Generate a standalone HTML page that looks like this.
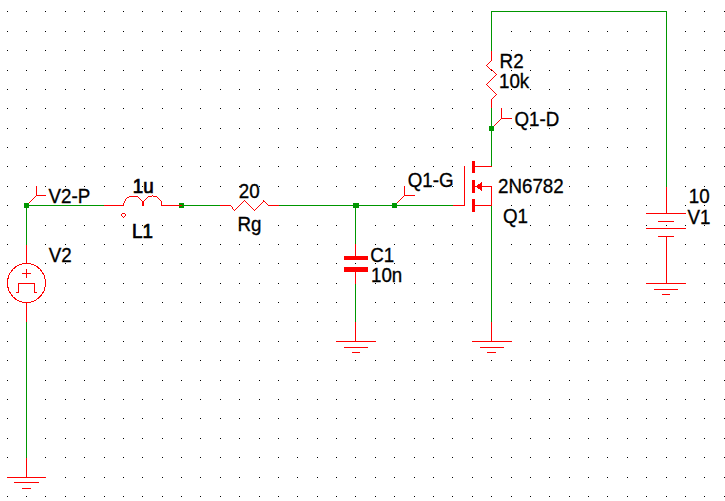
<!DOCTYPE html>
<html><head><meta charset="utf-8"><title>Schematic</title>
<style>
html,body{margin:0;padding:0;background:#fff;overflow:hidden}
svg{display:block}
text{font-family:"Liberation Sans",Arial,sans-serif;font-size:19px;fill:#000;stroke:#000;stroke-width:0.3px}
text.b{stroke:#000;stroke-width:0.7px}
</style></head><body>
<svg width="725" height="501" viewBox="0 0 725 501">
<rect width="725" height="501" fill="#fff"/>
<g shape-rendering="crispEdges">
<path d="M7 11.5h1M26 11.5h1M45 11.5h1M65 11.5h1M84 11.5h1M104 11.5h1M123 11.5h1M142 11.5h1M162 11.5h1M181 11.5h1M200 11.5h1M220 11.5h1M239 11.5h1M259 11.5h1M278 11.5h1M297 11.5h1M317 11.5h1M336 11.5h1M355 11.5h1M375 11.5h1M394 11.5h1M414 11.5h1M433 11.5h1M452 11.5h1M472 11.5h1M491 11.5h1M511 11.5h1M530 11.5h1M549 11.5h1M569 11.5h1M588 11.5h1M607 11.5h1M627 11.5h1M646 11.5h1M666 11.5h1M685 11.5h1M704 11.5h1M724 11.5h1M7 31.5h1M26 31.5h1M45 31.5h1M65 31.5h1M84 31.5h1M104 31.5h1M123 31.5h1M142 31.5h1M162 31.5h1M181 31.5h1M200 31.5h1M220 31.5h1M239 31.5h1M259 31.5h1M278 31.5h1M297 31.5h1M317 31.5h1M336 31.5h1M355 31.5h1M375 31.5h1M394 31.5h1M414 31.5h1M433 31.5h1M452 31.5h1M472 31.5h1M491 31.5h1M511 31.5h1M530 31.5h1M549 31.5h1M569 31.5h1M588 31.5h1M607 31.5h1M627 31.5h1M646 31.5h1M666 31.5h1M685 31.5h1M704 31.5h1M724 31.5h1M7 50.5h1M26 50.5h1M45 50.5h1M65 50.5h1M84 50.5h1M104 50.5h1M123 50.5h1M142 50.5h1M162 50.5h1M181 50.5h1M200 50.5h1M220 50.5h1M239 50.5h1M259 50.5h1M278 50.5h1M297 50.5h1M317 50.5h1M336 50.5h1M355 50.5h1M375 50.5h1M394 50.5h1M414 50.5h1M433 50.5h1M452 50.5h1M472 50.5h1M491 50.5h1M511 50.5h1M530 50.5h1M549 50.5h1M569 50.5h1M588 50.5h1M607 50.5h1M627 50.5h1M646 50.5h1M666 50.5h1M685 50.5h1M704 50.5h1M724 50.5h1M7 70.5h1M26 70.5h1M45 70.5h1M65 70.5h1M84 70.5h1M104 70.5h1M123 70.5h1M142 70.5h1M162 70.5h1M181 70.5h1M200 70.5h1M220 70.5h1M239 70.5h1M259 70.5h1M278 70.5h1M297 70.5h1M317 70.5h1M336 70.5h1M355 70.5h1M375 70.5h1M394 70.5h1M414 70.5h1M433 70.5h1M452 70.5h1M472 70.5h1M491 70.5h1M511 70.5h1M530 70.5h1M549 70.5h1M569 70.5h1M588 70.5h1M607 70.5h1M627 70.5h1M646 70.5h1M666 70.5h1M685 70.5h1M704 70.5h1M724 70.5h1M7 89.5h1M26 89.5h1M45 89.5h1M65 89.5h1M84 89.5h1M104 89.5h1M123 89.5h1M142 89.5h1M162 89.5h1M181 89.5h1M200 89.5h1M220 89.5h1M239 89.5h1M259 89.5h1M278 89.5h1M297 89.5h1M317 89.5h1M336 89.5h1M355 89.5h1M375 89.5h1M394 89.5h1M414 89.5h1M433 89.5h1M452 89.5h1M472 89.5h1M491 89.5h1M511 89.5h1M530 89.5h1M549 89.5h1M569 89.5h1M588 89.5h1M607 89.5h1M627 89.5h1M646 89.5h1M666 89.5h1M685 89.5h1M704 89.5h1M724 89.5h1M7 108.5h1M26 108.5h1M45 108.5h1M65 108.5h1M84 108.5h1M104 108.5h1M123 108.5h1M142 108.5h1M162 108.5h1M181 108.5h1M200 108.5h1M220 108.5h1M239 108.5h1M259 108.5h1M278 108.5h1M297 108.5h1M317 108.5h1M336 108.5h1M355 108.5h1M375 108.5h1M394 108.5h1M414 108.5h1M433 108.5h1M452 108.5h1M472 108.5h1M491 108.5h1M511 108.5h1M530 108.5h1M549 108.5h1M569 108.5h1M588 108.5h1M607 108.5h1M627 108.5h1M646 108.5h1M666 108.5h1M685 108.5h1M704 108.5h1M724 108.5h1M7 128.5h1M26 128.5h1M45 128.5h1M65 128.5h1M84 128.5h1M104 128.5h1M123 128.5h1M142 128.5h1M162 128.5h1M181 128.5h1M200 128.5h1M220 128.5h1M239 128.5h1M259 128.5h1M278 128.5h1M297 128.5h1M317 128.5h1M336 128.5h1M355 128.5h1M375 128.5h1M394 128.5h1M414 128.5h1M433 128.5h1M452 128.5h1M472 128.5h1M491 128.5h1M511 128.5h1M530 128.5h1M549 128.5h1M569 128.5h1M588 128.5h1M607 128.5h1M627 128.5h1M646 128.5h1M666 128.5h1M685 128.5h1M704 128.5h1M724 128.5h1M7 147.5h1M26 147.5h1M45 147.5h1M65 147.5h1M84 147.5h1M104 147.5h1M123 147.5h1M142 147.5h1M162 147.5h1M181 147.5h1M200 147.5h1M220 147.5h1M239 147.5h1M259 147.5h1M278 147.5h1M297 147.5h1M317 147.5h1M336 147.5h1M355 147.5h1M375 147.5h1M394 147.5h1M414 147.5h1M433 147.5h1M452 147.5h1M472 147.5h1M491 147.5h1M511 147.5h1M530 147.5h1M549 147.5h1M569 147.5h1M588 147.5h1M607 147.5h1M627 147.5h1M646 147.5h1M666 147.5h1M685 147.5h1M704 147.5h1M724 147.5h1M7 166.5h1M26 166.5h1M45 166.5h1M65 166.5h1M84 166.5h1M104 166.5h1M123 166.5h1M142 166.5h1M162 166.5h1M181 166.5h1M200 166.5h1M220 166.5h1M239 166.5h1M259 166.5h1M278 166.5h1M297 166.5h1M317 166.5h1M336 166.5h1M355 166.5h1M375 166.5h1M394 166.5h1M414 166.5h1M433 166.5h1M452 166.5h1M472 166.5h1M491 166.5h1M511 166.5h1M530 166.5h1M549 166.5h1M569 166.5h1M588 166.5h1M607 166.5h1M627 166.5h1M646 166.5h1M666 166.5h1M685 166.5h1M704 166.5h1M724 166.5h1M7 186.5h1M26 186.5h1M45 186.5h1M65 186.5h1M84 186.5h1M104 186.5h1M123 186.5h1M142 186.5h1M162 186.5h1M181 186.5h1M200 186.5h1M220 186.5h1M239 186.5h1M259 186.5h1M278 186.5h1M297 186.5h1M317 186.5h1M336 186.5h1M355 186.5h1M375 186.5h1M394 186.5h1M414 186.5h1M433 186.5h1M452 186.5h1M472 186.5h1M491 186.5h1M511 186.5h1M530 186.5h1M549 186.5h1M569 186.5h1M588 186.5h1M607 186.5h1M627 186.5h1M646 186.5h1M666 186.5h1M685 186.5h1M704 186.5h1M724 186.5h1M7 205.5h1M26 205.5h1M45 205.5h1M65 205.5h1M84 205.5h1M104 205.5h1M123 205.5h1M142 205.5h1M162 205.5h1M181 205.5h1M200 205.5h1M220 205.5h1M239 205.5h1M259 205.5h1M278 205.5h1M297 205.5h1M317 205.5h1M336 205.5h1M355 205.5h1M375 205.5h1M394 205.5h1M414 205.5h1M433 205.5h1M452 205.5h1M472 205.5h1M491 205.5h1M511 205.5h1M530 205.5h1M549 205.5h1M569 205.5h1M588 205.5h1M607 205.5h1M627 205.5h1M646 205.5h1M666 205.5h1M685 205.5h1M704 205.5h1M724 205.5h1M7 225.5h1M26 225.5h1M45 225.5h1M65 225.5h1M84 225.5h1M104 225.5h1M123 225.5h1M142 225.5h1M162 225.5h1M181 225.5h1M200 225.5h1M220 225.5h1M239 225.5h1M259 225.5h1M278 225.5h1M297 225.5h1M317 225.5h1M336 225.5h1M355 225.5h1M375 225.5h1M394 225.5h1M414 225.5h1M433 225.5h1M452 225.5h1M472 225.5h1M491 225.5h1M511 225.5h1M530 225.5h1M549 225.5h1M569 225.5h1M588 225.5h1M607 225.5h1M627 225.5h1M646 225.5h1M666 225.5h1M685 225.5h1M704 225.5h1M724 225.5h1M7 244.5h1M26 244.5h1M45 244.5h1M65 244.5h1M84 244.5h1M104 244.5h1M123 244.5h1M142 244.5h1M162 244.5h1M181 244.5h1M200 244.5h1M220 244.5h1M239 244.5h1M259 244.5h1M278 244.5h1M297 244.5h1M317 244.5h1M336 244.5h1M355 244.5h1M375 244.5h1M394 244.5h1M414 244.5h1M433 244.5h1M452 244.5h1M472 244.5h1M491 244.5h1M511 244.5h1M530 244.5h1M549 244.5h1M569 244.5h1M588 244.5h1M607 244.5h1M627 244.5h1M646 244.5h1M666 244.5h1M685 244.5h1M704 244.5h1M724 244.5h1M7 263.5h1M26 263.5h1M45 263.5h1M65 263.5h1M84 263.5h1M104 263.5h1M123 263.5h1M142 263.5h1M162 263.5h1M181 263.5h1M200 263.5h1M220 263.5h1M239 263.5h1M259 263.5h1M278 263.5h1M297 263.5h1M317 263.5h1M336 263.5h1M355 263.5h1M375 263.5h1M394 263.5h1M414 263.5h1M433 263.5h1M452 263.5h1M472 263.5h1M491 263.5h1M511 263.5h1M530 263.5h1M549 263.5h1M569 263.5h1M588 263.5h1M607 263.5h1M627 263.5h1M646 263.5h1M666 263.5h1M685 263.5h1M704 263.5h1M724 263.5h1M7 283.5h1M26 283.5h1M45 283.5h1M65 283.5h1M84 283.5h1M104 283.5h1M123 283.5h1M142 283.5h1M162 283.5h1M181 283.5h1M200 283.5h1M220 283.5h1M239 283.5h1M259 283.5h1M278 283.5h1M297 283.5h1M317 283.5h1M336 283.5h1M355 283.5h1M375 283.5h1M394 283.5h1M414 283.5h1M433 283.5h1M452 283.5h1M472 283.5h1M491 283.5h1M511 283.5h1M530 283.5h1M549 283.5h1M569 283.5h1M588 283.5h1M607 283.5h1M627 283.5h1M646 283.5h1M666 283.5h1M685 283.5h1M704 283.5h1M724 283.5h1M7 302.5h1M26 302.5h1M45 302.5h1M65 302.5h1M84 302.5h1M104 302.5h1M123 302.5h1M142 302.5h1M162 302.5h1M181 302.5h1M200 302.5h1M220 302.5h1M239 302.5h1M259 302.5h1M278 302.5h1M297 302.5h1M317 302.5h1M336 302.5h1M355 302.5h1M375 302.5h1M394 302.5h1M414 302.5h1M433 302.5h1M452 302.5h1M472 302.5h1M491 302.5h1M511 302.5h1M530 302.5h1M549 302.5h1M569 302.5h1M588 302.5h1M607 302.5h1M627 302.5h1M646 302.5h1M666 302.5h1M685 302.5h1M704 302.5h1M724 302.5h1M7 321.5h1M26 321.5h1M45 321.5h1M65 321.5h1M84 321.5h1M104 321.5h1M123 321.5h1M142 321.5h1M162 321.5h1M181 321.5h1M200 321.5h1M220 321.5h1M239 321.5h1M259 321.5h1M278 321.5h1M297 321.5h1M317 321.5h1M336 321.5h1M355 321.5h1M375 321.5h1M394 321.5h1M414 321.5h1M433 321.5h1M452 321.5h1M472 321.5h1M491 321.5h1M511 321.5h1M530 321.5h1M549 321.5h1M569 321.5h1M588 321.5h1M607 321.5h1M627 321.5h1M646 321.5h1M666 321.5h1M685 321.5h1M704 321.5h1M724 321.5h1M7 341.5h1M26 341.5h1M45 341.5h1M65 341.5h1M84 341.5h1M104 341.5h1M123 341.5h1M142 341.5h1M162 341.5h1M181 341.5h1M200 341.5h1M220 341.5h1M239 341.5h1M259 341.5h1M278 341.5h1M297 341.5h1M317 341.5h1M336 341.5h1M355 341.5h1M375 341.5h1M394 341.5h1M414 341.5h1M433 341.5h1M452 341.5h1M472 341.5h1M491 341.5h1M511 341.5h1M530 341.5h1M549 341.5h1M569 341.5h1M588 341.5h1M607 341.5h1M627 341.5h1M646 341.5h1M666 341.5h1M685 341.5h1M704 341.5h1M724 341.5h1M7 360.5h1M26 360.5h1M45 360.5h1M65 360.5h1M84 360.5h1M104 360.5h1M123 360.5h1M142 360.5h1M162 360.5h1M181 360.5h1M200 360.5h1M220 360.5h1M239 360.5h1M259 360.5h1M278 360.5h1M297 360.5h1M317 360.5h1M336 360.5h1M355 360.5h1M375 360.5h1M394 360.5h1M414 360.5h1M433 360.5h1M452 360.5h1M472 360.5h1M491 360.5h1M511 360.5h1M530 360.5h1M549 360.5h1M569 360.5h1M588 360.5h1M607 360.5h1M627 360.5h1M646 360.5h1M666 360.5h1M685 360.5h1M704 360.5h1M724 360.5h1M7 380.5h1M26 380.5h1M45 380.5h1M65 380.5h1M84 380.5h1M104 380.5h1M123 380.5h1M142 380.5h1M162 380.5h1M181 380.5h1M200 380.5h1M220 380.5h1M239 380.5h1M259 380.5h1M278 380.5h1M297 380.5h1M317 380.5h1M336 380.5h1M355 380.5h1M375 380.5h1M394 380.5h1M414 380.5h1M433 380.5h1M452 380.5h1M472 380.5h1M491 380.5h1M511 380.5h1M530 380.5h1M549 380.5h1M569 380.5h1M588 380.5h1M607 380.5h1M627 380.5h1M646 380.5h1M666 380.5h1M685 380.5h1M704 380.5h1M724 380.5h1M7 399.5h1M26 399.5h1M45 399.5h1M65 399.5h1M84 399.5h1M104 399.5h1M123 399.5h1M142 399.5h1M162 399.5h1M181 399.5h1M200 399.5h1M220 399.5h1M239 399.5h1M259 399.5h1M278 399.5h1M297 399.5h1M317 399.5h1M336 399.5h1M355 399.5h1M375 399.5h1M394 399.5h1M414 399.5h1M433 399.5h1M452 399.5h1M472 399.5h1M491 399.5h1M511 399.5h1M530 399.5h1M549 399.5h1M569 399.5h1M588 399.5h1M607 399.5h1M627 399.5h1M646 399.5h1M666 399.5h1M685 399.5h1M704 399.5h1M724 399.5h1M7 418.5h1M26 418.5h1M45 418.5h1M65 418.5h1M84 418.5h1M104 418.5h1M123 418.5h1M142 418.5h1M162 418.5h1M181 418.5h1M200 418.5h1M220 418.5h1M239 418.5h1M259 418.5h1M278 418.5h1M297 418.5h1M317 418.5h1M336 418.5h1M355 418.5h1M375 418.5h1M394 418.5h1M414 418.5h1M433 418.5h1M452 418.5h1M472 418.5h1M491 418.5h1M511 418.5h1M530 418.5h1M549 418.5h1M569 418.5h1M588 418.5h1M607 418.5h1M627 418.5h1M646 418.5h1M666 418.5h1M685 418.5h1M704 418.5h1M724 418.5h1M7 438.5h1M26 438.5h1M45 438.5h1M65 438.5h1M84 438.5h1M104 438.5h1M123 438.5h1M142 438.5h1M162 438.5h1M181 438.5h1M200 438.5h1M220 438.5h1M239 438.5h1M259 438.5h1M278 438.5h1M297 438.5h1M317 438.5h1M336 438.5h1M355 438.5h1M375 438.5h1M394 438.5h1M414 438.5h1M433 438.5h1M452 438.5h1M472 438.5h1M491 438.5h1M511 438.5h1M530 438.5h1M549 438.5h1M569 438.5h1M588 438.5h1M607 438.5h1M627 438.5h1M646 438.5h1M666 438.5h1M685 438.5h1M704 438.5h1M724 438.5h1M7 457.5h1M26 457.5h1M45 457.5h1M65 457.5h1M84 457.5h1M104 457.5h1M123 457.5h1M142 457.5h1M162 457.5h1M181 457.5h1M200 457.5h1M220 457.5h1M239 457.5h1M259 457.5h1M278 457.5h1M297 457.5h1M317 457.5h1M336 457.5h1M355 457.5h1M375 457.5h1M394 457.5h1M414 457.5h1M433 457.5h1M452 457.5h1M472 457.5h1M491 457.5h1M511 457.5h1M530 457.5h1M549 457.5h1M569 457.5h1M588 457.5h1M607 457.5h1M627 457.5h1M646 457.5h1M666 457.5h1M685 457.5h1M704 457.5h1M724 457.5h1M7 477.5h1M26 477.5h1M45 477.5h1M65 477.5h1M84 477.5h1M104 477.5h1M123 477.5h1M142 477.5h1M162 477.5h1M181 477.5h1M200 477.5h1M220 477.5h1M239 477.5h1M259 477.5h1M278 477.5h1M297 477.5h1M317 477.5h1M336 477.5h1M355 477.5h1M375 477.5h1M394 477.5h1M414 477.5h1M433 477.5h1M452 477.5h1M472 477.5h1M491 477.5h1M511 477.5h1M530 477.5h1M549 477.5h1M569 477.5h1M588 477.5h1M607 477.5h1M627 477.5h1M646 477.5h1M666 477.5h1M685 477.5h1M704 477.5h1M724 477.5h1M7 496.5h1M26 496.5h1M45 496.5h1M65 496.5h1M84 496.5h1M104 496.5h1M123 496.5h1M142 496.5h1M162 496.5h1M181 496.5h1M200 496.5h1M220 496.5h1M239 496.5h1M259 496.5h1M278 496.5h1M297 496.5h1M317 496.5h1M336 496.5h1M355 496.5h1M375 496.5h1M394 496.5h1M414 496.5h1M433 496.5h1M452 496.5h1M472 496.5h1M491 496.5h1M511 496.5h1M530 496.5h1M549 496.5h1M569 496.5h1M588 496.5h1M607 496.5h1M627 496.5h1M646 496.5h1M666 496.5h1M685 496.5h1M704 496.5h1M724 496.5h1" stroke="#000" stroke-width="1" fill="none"/>
<rect x="26" y="205" width="79" height="1" fill="#009600"/><rect x="26" y="205" width="1" height="40" fill="#009600"/><rect x="26" y="321" width="1" height="137" fill="#009600"/><rect x="181" y="205" width="40" height="1" fill="#009600"/><rect x="278" y="205" width="175" height="1" fill="#009600"/><rect x="355" y="205" width="1" height="40" fill="#009600"/><rect x="355" y="283" width="1" height="39" fill="#009600"/><rect x="491" y="205" width="1" height="117" fill="#009600"/><rect x="491" y="108" width="1" height="59" fill="#009600"/><rect x="491" y="11" width="1" height="40" fill="#009600"/><rect x="491" y="11" width="176" height="1" fill="#009600"/><rect x="666" y="11" width="1" height="176" fill="#009600"/>
<rect x="24" y="203" width="5" height="5" fill="#009600"/><rect x="179" y="203" width="5" height="5" fill="#009600"/><rect x="353" y="203" width="6" height="5" fill="#009600"/><rect x="392" y="203" width="5" height="5" fill="#009600"/><rect x="489" y="126" width="5" height="5" fill="#009600"/>
<rect x="26" y="245" width="1" height="19" fill="#ff0000"/><rect x="26" y="302" width="1" height="20" fill="#ff0000"/><ellipse cx="26.5" cy="283" rx="19" ry="19.5" stroke="#ff0000" fill="none"/><rect x="22" y="273" width="9" height="1" fill="#ff0000"/><rect x="26" y="269" width="1" height="9" fill="#ff0000"/><path d="M18 283.5h17M18 284.5h1M34 284.5h1M18 285.5h1M34 285.5h1M18 286.5h1M34 286.5h1M18 287.5h1M34 287.5h1M18 288.5h1M34 288.5h1M18 289.5h1M34 289.5h1M18 290.5h1M34 290.5h1M18 291.5h1M34 291.5h1M16 292.5h3M34 292.5h3" stroke="#ff0000" stroke-width="1" fill="none"/><rect x="104" y="205" width="20" height="1" fill="#ff0000"/><rect x="161" y="205" width="21" height="1" fill="#ff0000"/><path d="M129 196.5h9M127 197.5h2M138 197.5h1M126 198.5h1M139 198.5h1M125 199.5h1M140 199.5h1M125 200.5h1M141 200.5h1M124 201.5h1M142 201.5h1M124 202.5h1M142 202.5h1M123 203.5h1M142 203.5h1M123 204.5h1M142 204.5h1M123 205.5h1M142 205.5h1" stroke="#ff0000" stroke-width="1" fill="none"/><path d="M122 213.5h3M121 214.5h1M125 214.5h1M121 215.5h1M125 215.5h1M122 216.5h1M124 216.5h1M123 217.5h1" stroke="#ff0000" stroke-width="1" fill="none"/><path d="M152 195.5h1M148 196.5h4M153 196.5h4M147 197.5h1M157 197.5h1M146 198.5h1M158 198.5h1M145 199.5h1M159 199.5h1M144 200.5h1M160 200.5h1M143 201.5h1M161 201.5h1M143 202.5h1M161 202.5h1M143 203.5h1M161 203.5h1M143 204.5h1M161 204.5h1M143 205.5h1M161 205.5h1" stroke="#ff0000" stroke-width="1" fill="none"/><path d="M244 200.5h1M263 200.5h1M243 201.5h1M245 201.5h1M263 201.5h2M242 202.5h1M246 202.5h1M262 202.5h1M265 202.5h1M241 203.5h1M247 203.5h1M261 203.5h1M266 203.5h1M240 204.5h1M248 204.5h1M260 204.5h1M267 204.5h1M220 205.5h11M239 205.5h1M249 205.5h1M259 205.5h1M268 205.5h11M231 206.5h1M238 206.5h1M250 206.5h1M258 206.5h1M232 207.5h1M237 207.5h1M251 207.5h1M257 207.5h1M232 208.5h1M236 208.5h1M252 208.5h1M256 208.5h1M233 209.5h1M235 209.5h1M253 209.5h1M255 209.5h1M234 210.5h1M254 210.5h1" stroke="#ff0000" stroke-width="1" fill="none"/><path d="M491 51.5h1M491 52.5h1M491 53.5h1M491 54.5h1M491 55.5h1M491 56.5h1M491 57.5h1M491 58.5h1M491 59.5h1M491 60.5h1M490 61.5h1M489 62.5h1M488 63.5h1M487 64.5h1M486 65.5h1M487 66.5h1M488 67.5h1M489 68.5h1M490 69.5h2M492 70.5h1M493 71.5h1M494 72.5h1M495 73.5h1M496 74.5h1M495 75.5h1M494 76.5h1M493 77.5h1M492 78.5h1M491 79.5h1M490 80.5h1M489 81.5h1M488 82.5h1M487 83.5h1M486 84.5h1M487 85.5h1M488 86.5h1M489 87.5h1M490 88.5h1M491 89.5h1M492 90.5h1M493 91.5h1M494 92.5h1M495 93.5h1M496 94.5h1M495 95.5h1M494 96.5h1M493 97.5h1M492 98.5h1M491 99.5h1M491 100.5h1M491 101.5h1M491 102.5h1M491 103.5h1M491 104.5h1M491 105.5h1M491 106.5h1M491 107.5h1" stroke="#ff0000" stroke-width="1" fill="none"/><rect x="355" y="244" width="1" height="13" fill="#ff0000"/><rect x="355" y="271" width="1" height="13" fill="#ff0000"/><rect x="344" y="256" width="24" height="4" fill="#ff0000"/><rect x="344" y="267" width="24" height="5" fill="#ff0000"/><rect x="453" y="205" width="12" height="1" fill="#ff0000"/><rect x="464" y="166" width="1" height="40" fill="#ff0000"/><rect x="472" y="161" width="3" height="12" fill="#ff0000"/><rect x="472" y="180" width="3" height="13" fill="#ff0000"/><rect x="472" y="199" width="3" height="13" fill="#ff0000"/><rect x="475" y="166" width="17" height="1" fill="#ff0000"/><rect x="475" y="186" width="17" height="1" fill="#ff0000"/><rect x="475" y="205" width="17" height="1" fill="#ff0000"/><rect x="491" y="186" width="1" height="20" fill="#ff0000"/><polygon points="475,186.5 482,182 482,191" fill="#ff0000"/><rect x="666" y="187" width="1" height="27" fill="#ff0000"/><rect x="646" y="213" width="40" height="1" fill="#ff0000"/><rect x="658" y="221" width="16" height="1" fill="#ff0000"/><rect x="646" y="228" width="40" height="1" fill="#ff0000"/><rect x="658" y="236" width="16" height="1" fill="#ff0000"/><rect x="666" y="236" width="1" height="48" fill="#ff0000"/><rect x="26" y="458" width="1" height="20" fill="#ff0000"/><rect x="7" y="477" width="39" height="1" fill="#ff0000"/><rect x="14" y="482" width="25" height="1" fill="#ff0000"/><rect x="22" y="488" width="9" height="1" fill="#ff0000"/><rect x="355" y="322" width="1" height="20" fill="#ff0000"/><rect x="336" y="341" width="40" height="1" fill="#ff0000"/><rect x="344" y="347" width="24" height="1" fill="#ff0000"/><rect x="352" y="352" width="8" height="1" fill="#ff0000"/><rect x="491" y="322" width="1" height="20" fill="#ff0000"/><rect x="472" y="341" width="40" height="1" fill="#ff0000"/><rect x="480" y="347" width="24" height="1" fill="#ff0000"/><rect x="487" y="352" width="9" height="1" fill="#ff0000"/><rect x="646" y="283" width="40" height="1" fill="#ff0000"/><rect x="654" y="289" width="24" height="1" fill="#ff0000"/><rect x="662" y="294" width="8" height="1" fill="#ff0000"/><path d="M36 195.5h1M35 196.5h1M34 197.5h1M33 198.5h1M32 199.5h1M31 200.5h1M30 201.5h1M29 202.5h1" stroke="#ff0000" stroke-width="1" fill="none"/><rect x="36" y="186" width="1" height="10" fill="#ff0000"/><rect x="36" y="195" width="10" height="1" fill="#ff0000"/><path d="M404 195.5h1M403 196.5h1M402 197.5h1M401 198.5h1M400 199.5h1M399 200.5h1M398 201.5h1M397 202.5h1" stroke="#ff0000" stroke-width="1" fill="none"/><rect x="404" y="186" width="1" height="10" fill="#ff0000"/><rect x="404" y="195" width="11" height="1" fill="#ff0000"/><path d="M501 118.5h1M500 119.5h1M499 120.5h1M498 121.5h1M497 122.5h1M496 123.5h1M495 124.5h1M494 125.5h1" stroke="#ff0000" stroke-width="1" fill="none"/><rect x="501" y="108" width="1" height="11" fill="#ff0000"/><rect x="501" y="118" width="11" height="1" fill="#ff0000"/>
</g>
<g>

<text transform="translate(48.5 203) scale(0.988 1.06)">V2-P</text><text transform="translate(132.7 193) scale(0.988 1.06)" class="b">1u</text><text transform="translate(132 238) scale(0.988 1.06)" class="b">L1</text><text transform="translate(238.8 198) scale(0.988 1.06)">20</text><text transform="translate(237.5 231) scale(0.988 1.06)">Rg</text><text transform="translate(48.7 262) scale(0.988 1.06)">V2</text><text transform="translate(370.2 262) scale(0.988 1.06)">C1</text><text transform="translate(371 281.5) scale(0.988 1.06)">10n</text><text transform="translate(407.7 187) scale(0.988 1.06)">Q1-G</text><text transform="translate(498 193) scale(0.988 1.06)">2N6782</text><text transform="translate(503 223) scale(0.988 1.06)">Q1</text><text transform="translate(499.6 68) scale(0.988 1.06)">R2</text><text transform="translate(499 88) scale(0.988 1.06)">10k</text><text transform="translate(514.4 126) scale(0.988 1.06)">Q1-D</text><text transform="translate(688.8 202.5) scale(0.988 1.06)">10</text><text transform="translate(687.5 224) scale(0.988 1.06)">V1</text>
</g>
</svg>
</body></html>
